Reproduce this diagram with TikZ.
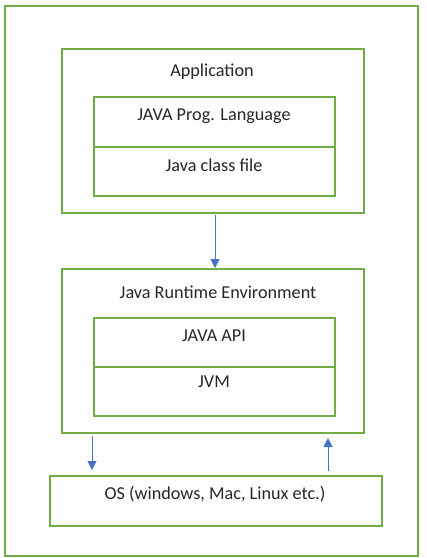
\documentclass[tikz,border=0pt]{standalone}
\usepackage{fontspec}
\setmainfont{Carlito}
\usetikzlibrary{arrows.meta,calc}
\definecolor{boxgreen}{HTML}{70AD47}
\definecolor{arrblue}{HTML}{4472C4}
\tikzset{
  box/.style={draw=boxgreen,line width=2pt,rectangle,inner sep=0pt},
  lbl/.style={inner sep=0pt,font=\fontsize{18.2}{21}\selectfont,text=black!85},
  arr/.style={draw=arrblue,line width=1pt,-{Triangle[width=9pt,length=9pt]}}
}
\begin{document}
\begin{tikzpicture}[x=1pt,y=-1pt]
\useasboundingbox (0,0) rectangle (427,558);
\node[box,minimum width=413pt,minimum height=550pt] (outer) at (211.5,281) {};
\node[box,minimum width=302pt,minimum height=164pt] (app) at (213,131) {};
\node[box,minimum width=241pt,minimum height=50pt] (lang) at (214.5,122) {};
\node[box,minimum width=241pt,minimum height=49pt] (cls) at (214.5,171.5) {};
\node[box,minimum width=302pt,minimum height=164pt] (jre) at (213,351) {};
\node[box,minimum width=241pt,minimum height=49pt] (api) at (214.5,342.5) {};
\node[box,minimum width=241pt,minimum height=49pt] (jvm) at (214.5,391.5) {};
\node[box,minimum width=332pt,minimum height=50pt] (os) at (216,501) {};
\node[lbl] (tapp) at (212,72) {Application};
\node[lbl] (tlang) at (214,116) {JAVA Prog. Language};
\node[lbl] (tcls) at (214,165) {Java class file};
\node[lbl] (tjre) at (218,292) {Java Runtime Environment};
\node[lbl] (tapi) at (214,336) {JAVA API};
\node[lbl] (tjvm) at (214,382) {JVM};
\node[lbl] (tos) at (215,494) {OS (windows, Mac, Linux etc.)};
\draw[arr] ($(app.south)+(2,1)$) -- ($(jre.north)+(2,0)$);
\draw[arr] ($(jre.south west)+(31,2)$) -- ($(os.north west)+(43,-5)$);
\draw[arr] ($(os.north west)+(279,-4)$) -- ($(jre.south west)+(267,4)$);
\end{tikzpicture}
\end{document}
